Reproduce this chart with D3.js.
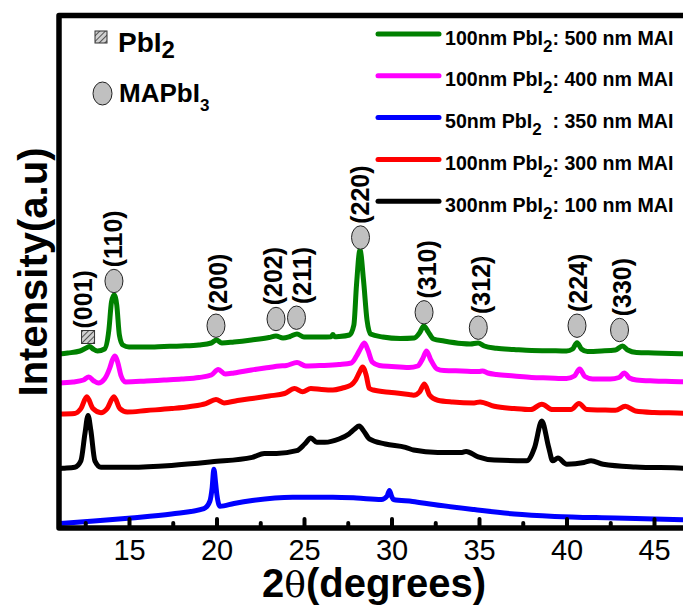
<!DOCTYPE html>
<html><head><meta charset="utf-8">
<script src="https://cdn.jsdelivr.net/npm/d3@7"></script>
<style>body{margin:0;background:#fff}svg{display:block}</style>
</head><body>
<svg id="chart" width="683" height="606"></svg>
<script>
// ---- data (2θ in degrees, intensity in arbitrary units) ----
const green500 = [[11.0,174],[11.5,175],[12.2,177],[12.55,180],[12.75,181.5],[12.95,179],[13.2,177],[13.6,179],[13.85,198],[14.0,226],[14.15,233],[14.3,223],[14.45,193],[14.65,183],[15.0,181],[16.0,181],[17.0,181.5],[18.0,182],[19.0,183],[19.7,185],[20.0,188],[20.3,185],[21.0,186],[22.0,188],[23.0,190.5],[23.4,192],[23.8,190],[24.2,191.5],[24.6,194],[25.0,191],[26.0,191],[26.55,191.3],[26.65,193.5],[26.75,191.3],[27.0,191.5],[27.6,193],[27.85,203],[28.0,243],[28.2,278],[28.4,248],[28.6,208],[28.8,194],[29.5,191],[30.5,189.5],[31.3,190],[31.6,195],[31.85,202],[32.1,196],[32.4,189],[33.0,187],[34.0,184.5],[34.5,184],[34.95,185],[35.3,182],[36.0,179.7],[37.0,178.5],[38.0,177.5],[39.0,177.3],[40.0,177],[40.35,179],[40.6,185.3],[40.85,179],[41.2,176.5],[42.0,177],[42.8,178],[43.2,182],[43.5,178],[44.0,175.5],[45.0,175],[46.0,174.5],[47.0,174]];
const magenta400 = [[11.0,145],[11.8,146],[12.4,148],[12.7,151],[13.0,147],[13.25,145],[13.6,149],[13.9,160],[14.05,168],[14.2,172],[14.35,166],[14.55,152],[14.8,146],[16.0,147],[17.0,148],[18.0,149],[19.0,150.5],[19.7,153],[20.1,158.5],[20.5,154],[21.0,155],[22.0,158],[23.0,160.5],[23.6,162],[24.0,162.5],[24.6,165.5],[25.1,162],[26.0,162.5],[27.0,163.5],[27.7,165],[28.0,172],[28.25,180],[28.45,185],[28.65,178],[28.9,166],[29.3,162.5],[30.0,161.5],[31.0,160.5],[31.5,162],[31.8,170],[32.0,177],[32.25,168],[32.6,159],[33.0,157.5],[34.0,157],[35.0,156.5],[35.2,157],[35.5,155],[36.0,153.5],[37.0,152],[38.0,150.5],[39.0,150],[40.0,149.5],[40.45,152],[40.75,159],[41.05,151.5],[41.5,149],[42.5,149],[43.0,150.5],[43.3,155],[43.6,150],[44.0,148],[45.0,147],[46.0,146.5],[47.0,146]];
const blue350 = [[11.0,4.5],[13.0,7],[15.13,10],[17.43,14],[19.28,19.4],[19.62,26.8],[19.75,40],[19.85,58.8],[19.95,45],[20.02,33.5],[20.2,21.7],[21.0,24.5],[22.04,27.5],[24.35,30.8],[26.65,30.8],[28.0,30],[29.42,28.5],[29.75,32],[29.88,37.6],[30.0,32],[30.11,28.5],[31.2,26.5],[32.41,23.4],[34.72,18.4],[37.02,14],[39.33,11.6],[42.79,10],[46.66,8.3],[47.0,8.2]];
const red300 = [[11.0,114],[11.9,114.6],[12.25,119.4],[12.59,131.2],[12.94,119.4],[13.4,115.3],[13.75,119.4],[14.14,131.2],[14.48,119.4],[14.9,116],[16.0,117.5],[17.43,119.4],[18.5,121.5],[19.39,124.4],[19.97,128.5],[20.43,125.1],[21.2,127.5],[22.04,129.5],[23.0,132],[23.89,134.5],[24.46,139.6],[24.92,136.2],[25.39,139.6],[26.0,138.5],[26.65,137.9],[27.2,140],[27.69,143],[27.95,148],[28.15,155],[28.35,161],[28.55,153],[28.73,139.6],[28.96,138],[30.0,135.5],[31.0,133.5],[31.26,132.8],[31.61,136.2],[31.88,144],[32.18,132.8],[32.64,127.8],[33.5,126],[34.72,125.1],[35.06,126.1],[35.87,121.7],[37.0,119.5],[37.95,118.4],[38.59,123.8],[39.21,118.4],[40.25,118.4],[40.71,124.4],[41.17,118.4],[42.0,118],[42.79,117.7],[43.36,121.7],[43.94,117],[45.0,115.5],[46.66,114.8],[47.0,114.5]];
const black100 = [[11.0,59.5],[11.21,59.8],[11.9,60.8],[12.25,67.2],[12.48,94.1],[12.66,112.6],[12.82,97.5],[13.05,67.2],[13.4,60.8],[15.13,60.8],[17.43,62.6],[19.74,66.2],[22.04,70.6],[22.73,74.6],[23.43,74.6],[24.58,77.3],[25.04,84],[25.39,90.1],[25.73,85.7],[26.19,85.7],[27.0,89],[27.57,94.1],[27.9,99],[28.15,101.9],[28.45,96],[28.73,89.1],[29.65,84],[30.8,80.7],[31.26,78],[32.64,75.6],[34.03,75.6],[34.26,76.6],[34.95,71.2],[35.87,67.9],[37.72,67.2],[38.18,80.7],[38.59,106.9],[38.98,80.7],[39.21,67.2],[39.51,69.9],[40.02,63.8],[41.0,65.5],[41.4,67.2],[42.1,63.8],[43.94,61.1],[46.66,59.8],[47.0,59.5]];

const legendPrefix = ["100nm PbI", "100nm PbI", "50nm PbI", "100nm PbI", "300nm PbI"];
const legendSub = ["2", "2", "2", "2", "2"];
const legendSuffix = [": 500 nm MAI", ": 400 nm MAI", "  : 350 nm MAI", ": 300 nm MAI", ": 100 nm MAI"];

const peakLabels = ["(001)", "(110)", "(200)", "(202)", "(211)", "(220)", "(310)", "(312)", "(224)", "(330)"];
const peakTheta  = [12.66, 14.14, 19.97, 23.4, 24.57, 28.23, 31.86, 34.96, 40.6, 43.03];
const markerLevel = [191, 247, 202.3, 209, 210.3, 290.5, 215.7, 200.3, 202.3, 198];
const labelTheta = [12.37, 14.1, 20.06, 23.23, 24.86, 28.2, 32.03, 35.1, 40.67, 43.15];
const peakPhase = ["PbI2", "MAPbI3", "MAPbI3", "MAPbI3", "MAPbI3", "MAPbI3", "MAPbI3", "MAPbI3", "MAPbI3", "MAPbI3"];

const xTicks = [15, 20, 25, 30, 35, 40, 45];
const xMinorTicks = [12.5, 17.5, 22.5, 27.5, 32.5, 37.5, 42.5];

// ---- drawing ----
const svg = d3.select("#chart");
const L = 59, T = 15.5, B = 528, R = 689;
const x = d3.scaleLinear().domain([11, 47]).range([L, R]);
const y = d3.scaleLinear().domain([0, 512.5]).range([B, T]);
const font = "'Liberation Sans', Arial, Helvetica, sans-serif";

const defs = svg.append("defs");
defs.append("clipPath").attr("id", "clip").append("rect")
  .attr("x", L).attr("y", T).attr("width", R - L).attr("height", B - T);
const pat = defs.append("pattern").attr("id", "hatch").attr("patternUnits", "userSpaceOnUse")
  .attr("width", 4).attr("height", 4).attr("patternTransform", "rotate(45)");
pat.append("rect").attr("width", 4).attr("height", 4).attr("fill", "#d0d0d0");
pat.append("line").attr("x1", 0).attr("y1", 0).attr("x2", 0).attr("y2", 4).attr("stroke", "#333").attr("stroke-width", 1.6);

const line = d3.line().x(d => x(d[0])).y(d => y(d[1])).curve(d3.curveMonotoneX);
const series = [
  {data: black100, color: "#000000"},
  {data: red300, color: "#ff0000"},
  {data: blue350, color: "#0000ff"},
  {data: magenta400, color: "#ff00ff"},
  {data: green500, color: "#008000"}
];
const gLines = svg.append("g").attr("clip-path", "url(#clip)");
series.forEach(s => {
  gLines.append("path").datum(s.data).attr("d", line)
    .attr("fill", "none").attr("stroke", s.color).attr("stroke-width", 5)
    .attr("stroke-linejoin", "round").attr("stroke-linecap", "round");
});

// axes
const xAxis = d3.axisBottom(x).tickValues(xTicks).tickSize(-9).tickPadding(11).tickFormat(d3.format("d"));
const gx = svg.append("g").attr("transform", `translate(0,${B})`).call(xAxis);
gx.select(".domain").remove();
gx.selectAll(".tick line").attr("stroke", "#000").attr("stroke-width", 4).attr("stroke-linecap", "round");
gx.selectAll(".tick text").attr("font-family", font).attr("font-size", 29).attr("fill", "#000");
const xMinor = d3.axisBottom(x).tickValues(xMinorTicks).tickSize(-5).tickFormat("");
const gm = svg.append("g").attr("transform", `translate(0,${B})`).call(xMinor);
gm.select(".domain").remove();
gm.selectAll(".tick line").attr("stroke", "#000").attr("stroke-width", 4).attr("stroke-linecap", "round");

// frame
svg.append("path").attr("d", `M${R},${T}H${L}V${B}H${R}`)
  .attr("fill", "none").attr("stroke", "#000").attr("stroke-width", 5.5).attr("stroke-linejoin", "round");

// axis titles
const xt = svg.append("text").attr("x", 374).attr("y", 597).attr("text-anchor", "middle")
  .attr("font-family", font).attr("font-weight", "bold").attr("font-size", 40);
xt.append("tspan").text("2");
xt.append("tspan").attr("font-weight", "normal").attr("font-family", "'DejaVu Serif', serif").attr("font-size", 36).text("θ");
xt.append("tspan").text("(degrees)");
svg.append("text").attr("transform", "translate(47,272) rotate(-90)").attr("text-anchor", "middle")
  .attr("font-family", font).attr("font-weight", "bold").attr("font-size", 40).text("Intensity(a.u)");

// peak markers + labels
peakLabels.forEach((lab, i) => {
  const cx = x(peakTheta[i]), cy = y(markerLevel[i]);
  let top;
  if (peakPhase[i] === "PbI2") {
    svg.append("rect").attr("x", cx - 6.5).attr("y", cy - 6.5).attr("width", 13).attr("height", 13)
      .attr("fill", "url(#hatch)").attr("stroke", "#333").attr("stroke-width", 1);
    top = cy - 6.5;
  } else {
    svg.append("ellipse").attr("cx", cx).attr("cy", cy).attr("rx", 9).attr("ry", 11.7)
      .attr("fill", "#c0c0c0").attr("stroke", "#222").attr("stroke-width", 1);
    top = cy - 11.7;
  }
  svg.append("text").attr("transform", `translate(${x(labelTheta[i])},${top - 2}) rotate(-90)`)
    .attr("dy", "0.36em").attr("font-family", font).attr("font-weight", "bold").attr("font-size", 25)
    .text(lab);
});

// phase legend (top-left)
svg.append("rect").attr("x", 95).attr("y", 31).attr("width", 12).attr("height", 12)
  .attr("fill", "url(#hatch)").attr("stroke", "#333").attr("stroke-width", 1);
const t1 = svg.append("text").attr("x", 118).attr("y", 52).attr("font-family", font).attr("font-weight", "bold").attr("font-size", 28);
t1.append("tspan").text("PbI");
t1.append("tspan").attr("dy", 6).attr("font-size", 24).text("2");
svg.append("ellipse").attr("cx", 102.5).attr("cy", 93.5).attr("rx", 9.5).attr("ry", 11.5)
  .attr("fill", "#c0c0c0").attr("stroke", "#222").attr("stroke-width", 1);
const t2 = svg.append("text").attr("x", 119).attr("y", 102).attr("font-family", font).attr("font-weight", "bold").attr("font-size", 26);
t2.append("tspan").text("MAPbI");
t2.append("tspan").attr("dy", 9).attr("font-size", 17).text("3");

// series legend (top-right)
const legColors = ["#008000", "#ff00ff", "#0000ff", "#ff0000", "#000000"];
legendPrefix.forEach((p, i) => {
  const ly = 34 + i * 41.8;
  svg.append("line").attr("x1", 378).attr("x2", 439).attr("y1", ly).attr("y2", ly)
    .attr("stroke", legColors[i]).attr("stroke-width", 5).attr("stroke-linecap", "round");
  const t = svg.append("text").attr("x", 445).attr("y", ly + 10.5).attr("font-family", font)
    .attr("font-weight", "bold").attr("font-size", 19.6).style("white-space", "pre");
  t.append("tspan").text(p);
  t.append("tspan").attr("dy", 7).attr("font-size", 17).text(legendSub[i]);
  t.append("tspan").attr("dy", -7).text(legendSuffix[i]);
});
</script>
</body></html>
